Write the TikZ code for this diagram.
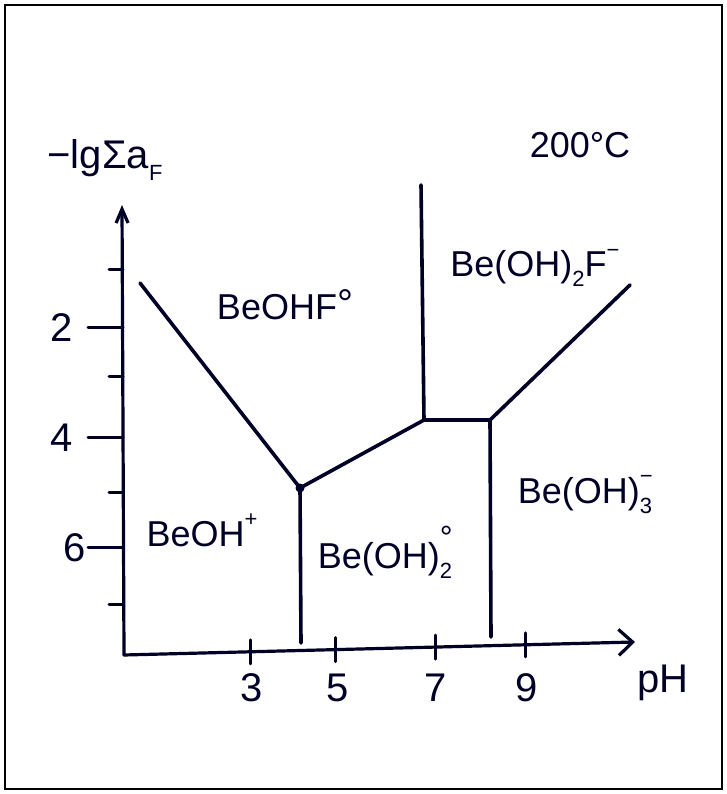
\documentclass[tikz,border=0pt]{standalone}
\usepackage{fontspec}
\setmainfont{Liberation Sans}
\usetikzlibrary{arrows.meta}
\newcommand\hup[1]{\raisebox{0.55em}{\fontsize{22}{22}\selectfont #1}}
\newcommand\hdn[1]{\raisebox{-0.28em}{\fontsize{22}{22}\selectfont #1}}
\newcommand\hdeg{\raisebox{0.05em}{\fontsize{40}{40}\selectfont °}}
\newcommand\hsupsub[2]{\rlap{\hup{#1}}\hdn{#2}}
\begin{document}
\begin{tikzpicture}[x=1pt,y=1pt,
  pen/.style={line width=3.6pt,line cap=round,line join=round,color=black!85!blue},
  axisline/.style={pen,line width=3.2pt},
  tickmark/.style={line width=3pt,line cap=round,color=black!85!blue},
  species/.style={font=\fontsize{36}{36}\selectfont,text=black!85!blue,inner sep=0pt},
  numlabel/.style={font=\fontsize{40}{40}\selectfont,text=black!85!blue,inner sep=0pt},
  frame/.style={line width=1.8pt}]
\useasboundingbox (0,0) rectangle (727,794);
\draw[frame] (5,5) rectangle (722,789);
% axes
\coordinate (O) at (124,139);
\coordinate (ytip) at (122,589);
\coordinate (xtip) at (635,152);
\draw[axisline,-{Straight Barb[length=14pt,width=12pt]}] (O) -- (ytip);
\draw[axisline,-{Straight Barb[length=14pt,width=26pt]}] (O) -- (xtip);
% y ticks
\foreach \y/\w in {524/14,466/35,417/14,356/35,301/14,246/35,189/14}
  \draw[tickmark] (123-\w,\y) -- (123,\y);
\node[numlabel] (l2) at (62,466) {2};
\node[numlabel] (l4) at (62,356) {4};
\node[numlabel] (l6) at (75,246) {6};
% x ticks
\foreach \x/\y in {250/142.2,335/144.4,435/146.9,525/149.2}
  \draw[tickmark] (\x,\y+12) -- (\x,\y-12);
\node[numlabel] (l3) at (252,106) {3};
\node[numlabel] (l5) at (338,106) {5};
\node[numlabel] (l7) at (436,106) {7};
\node[numlabel] (l9) at (527,106) {9};
\node[numlabel] (ph) at (663,111) {pH};
\node[numlabel] (ya) at (105,634) {−lgΣa\hdn{F}};
\node[numlabel,font=\fontsize{36}{36}\selectfont] (temp) at (580,649) {200°C};
% boundaries
\coordinate (A) at (140,511);
\coordinate (T) at (300,306);
\coordinate (Tb) at (301,151);
\coordinate (B) at (424,374);
\coordinate (Bt) at (421,609);
\coordinate (C) at (490,374);
\coordinate (Cb) at (491,157);
\coordinate (D) at (630,509);
\draw[pen] (A) -- (T) -- (B) -- (C) -- (D);
\draw[pen] (T) -- (Tb);
\draw[pen] (B) -- (Bt);
\draw[pen] (C) -- (Cb);
\fill[black!85!blue] (T) circle (4.5pt);
% species
\node[species] (s1) at (285,489) {BeOHF\hdeg};
\node[species] (s2) at (535,526) {Be(OH)\hdn{2}F\hup{−}};
\node[species] (s3) at (585,299) {Be(OH)\hsupsub{−}{3}};
\node[species] (s4) at (202,264) {BeOH\hup{+}};
\node[species] (s5) at (385,242) {Be(OH)\hsupsub{\fontsize{32}{32}\selectfont °}{2}};
\end{tikzpicture}
\end{document}
